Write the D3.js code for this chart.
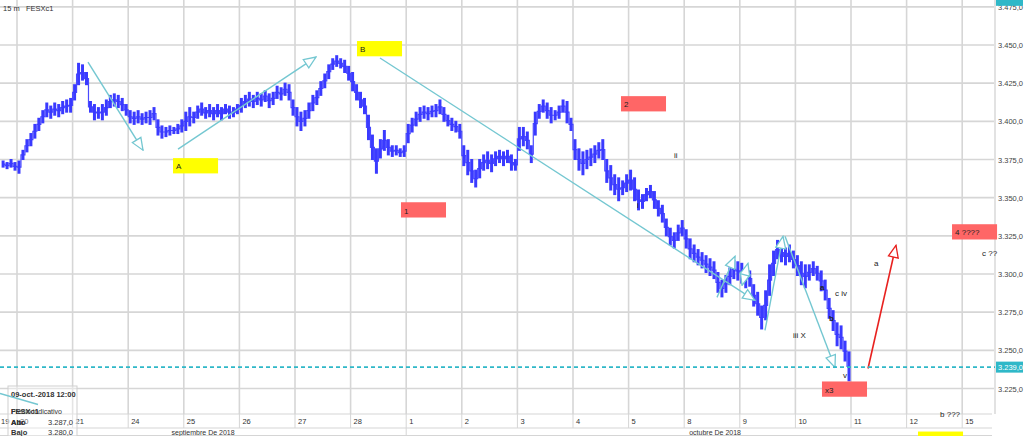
<!DOCTYPE html>
<html><head><meta charset="utf-8">
<script src="https://cdn.jsdelivr.net/npm/d3@7"></script>
<style>
body{margin:0;background:#fff;}
svg{display:block;font-family:"Liberation Sans",Arial,sans-serif;}
</style>
</head><body>
<svg id="c" width="1024" height="436"></svg>
<script>
// ---------- data ----------
const title = "15 m   FESXc1";
const dayLabels = ["19","20","21","24","25","26","27","28","1","2","3","4","5","8","9","10","11","12","15"];
const monthLabels = [{label:"septiembre De 2018", from:0, to:8}, {label:"octubre De 2018", from:8, to:20}];
const priceTicks = [3225,3250,3275,3300,3325,3350,3375,3400,3425,3450,3475];
const barsPerDay = 14;      // hourly bars
const firstBar = 10;        // first visible bar within day "19"
const lows = [
 3370,3369,3370,3368,
 3366,3375,3380,3384,3389,3394,3399,3403,3402,3404,3403,3405,3406,3406,
 3414,3424,3427,3424,3406,3401,3402,3401,3404,3409,3410,3409,3407,3404,
 3399,3398,3399,3398,3399,3398,3401,3391,3389,3390,3391,3392,3392,3393,
 3394,3397,3399,3402,3404,3402,3403,3401,3403,3401,3405,3402,3403,3405,
 3406,3409,3410,3409,3411,3410,3413,3409,3411,3415,3414,3417,3414,3404,
 3397,3394,3397,3402,3407,3411,3417,3422,3428,3434,3436,3435,3432,3427,
 3420,3414,3409,3405,3388,3375,3366,3376,3381,3378,3377,3378,3377,3377,
 3386,3393,3397,3400,3402,3401,3403,3403,3405,3400,3397,3394,3393,3389,
 3371,3365,3360,3357,3363,3368,3369,3367,3371,3373,3371,3373,3368,3368,
 3381,3384,3382,3373,3391,3402,3406,3402,3399,3401,3402,3406,3399,3394,
 3375,3368,3365,3369,3371,3373,3376,3375,3360,3355,3352,3348,3352,3354,
 3355,3348,3342,3343,3348,3350,3343,3338,3334,3325,3319,3317,3322,3325,
 3317,3310,3308,3306,3304,3301,3299,3297,3288,3285,3288,3293,3297,3296,
 3294,3291,3292,3279,3273,3264,3270,3286,3299,3310,3308,3306,3308,3304,
 3299,3293,3291,3296,3299,3296,3289,3283,3271,3263,3253,3251,3243,3230
];
const highs = [
 3374,3373,3375,3373,
 3374,3381,3388,3392,3398,3402,3407,3412,3410,3412,3411,3413,3414,3415,
 3424,3438,3437,3432,3413,3411,3409,3411,3414,3417,3418,3417,3415,3411,
 3407,3406,3407,3405,3406,3407,3409,3401,3397,3396,3397,3396,3398,3401,
 3406,3409,3406,3410,3412,3409,3411,3409,3411,3409,3411,3410,3409,3411,
 3415,3417,3419,3417,3419,3418,3420,3418,3419,3423,3422,3425,3424,3414,
 3409,3406,3407,3412,3417,3420,3426,3431,3437,3441,3443,3441,3440,3436,
 3432,3424,3419,3415,3404,3391,3382,3388,3394,3388,3384,3384,3382,3384,
 3398,3402,3406,3409,3410,3409,3410,3411,3414,3409,3404,3402,3400,3398,
 3384,3381,3375,3368,3375,3378,3380,3378,3380,3381,3380,3381,3378,3375,
 3396,3396,3393,3384,3406,3411,3414,3412,3409,3407,3410,3414,3413,3402,
 3388,3382,3380,3381,3382,3384,3386,3388,3375,3371,3365,3363,3361,3365,
 3368,3363,3355,3352,3356,3358,3354,3348,3345,3336,3330,3327,3332,3335,
 3329,3323,3319,3316,3314,3312,3310,3308,3301,3296,3299,3304,3309,3308,
 3307,3304,3302,3293,3288,3279,3289,3306,3315,3322,3320,3317,3319,3315,
 3312,3308,3306,3306,3308,3305,3302,3296,3284,3276,3268,3266,3256,3249
];
const lastPrice = 3239;
const topMarker = 3475;
// annotations (time in trading days, price)
const tealArrows = [
 {t1:2.277,p1:3438.8,t2:3.266,p2:3381.1},
 {t1:3.896,p1:3381.8,t2:6.378,p2:3442.1},
 {t1:7.529,p1:3441.5,t2:14.273,p2:3282.7},
 {t1:13.590,p1:3284.7,t2:13.914,p2:3311.6},
 {t1:14.040,p1:3292.6,t2:14.147,p2:3307.0,both:true},
 {t1:14.453,p1:3263.0,t2:14.777,p2:3324.7},
 {t1:14.813,p1:3324.7,t2:15.712,p2:3238.8}
];
const redArrows = [{t1:16.306,p1:3238.1,t2:16.809,p2:3318.8}];
const tealLines = [{t1:0.694,p1:3221.7,t2:1.378,p2:3214.5}];
const boxes = [
 {label:"A", t:3.806, p:3375.9, color:"#ffff00"},
 {label:"B", t:7.115, p:3452.6, color:"#ffff00"},
 {label:"1", t:7.906, p:3347.0, color:"#ff6666"},
 {label:"2", t:11.863, p:3416.5, color:"#ff6666"},
 {label:"x3", t:15.478, p:3229.6, color:"#ff6666"},
 {label:"4 ????", t:17.817, p:3332.6, color:"#ff6666"}
];
const boxW = 0.81, boxH = 10;
const notes = [
 {text:"ii", t:12.817, p:3375.9},
 {text:"i", t:12.151, p:3343.5},
 {text:"a", t:16.414, p:3305.0},
 {text:"a", t:15.442, p:3289.3, bold:true},
 {text:"b", t:15.604, p:3269.0, bold:true},
 {text:"c iv", t:15.712, p:3285.3},
 {text:"iii X", t:14.957, p:3257.8},
 {text:"v", t:15.856, p:3232.2},
 {text:"c ??", t:18.356, p:3311.6}
];
const legend = {date:"09-oct.-2018 12:00", sym:"FESXc1", kind:"Precio indicativo",
  rows:[{k:"Abr", k2:"Alto", v:"3.287,0"},{k:"Bajo", v:"3.280,0"}]};

// ---------- drawing ----------
const svg = d3.select("#c");
const plotRight = 995, axisTop = 414, axisMid = 428;
const x = d3.scaleLinear().domain([0,19]).range([-38.6, 1017.8]);
const y = d3.scaleLinear().domain([3225,3450]).range([388.5,45]);
const loc = d3.formatLocale({decimal:",", thousands:".", grouping:[3], currency:["",""]});
const fmt = loc.format(",.1f");
const teal = "#74c7d1", gridC = "#d6d6d6";

const defs = svg.append("defs");
defs.append("clipPath").attr("id","plot")
  .append("rect").attr("x",0).attr("y",0).attr("width",plotRight).attr("height",axisTop);

// horizontal grid
svg.append("g").selectAll("line").data(priceTicks).join("line")
  .attr("x1",0).attr("x2",plotRight).attr("y1",d=>y(d)).attr("y2",d=>y(d))
  .attr("stroke",gridC).attr("stroke-width",1.6);
// vertical grid
svg.append("g").selectAll("line").data(d3.range(1,dayLabels.length)).join("line")
  .attr("x1",d=>x(d)).attr("x2",d=>x(d)).attr("y1",0).attr("y2",axisMid)
  .attr("stroke",gridC).attr("stroke-width",1.6);
// right axis separator
svg.append("line").attr("x1",plotRight).attr("x2",plotRight).attr("y1",0).attr("y2",axisMid)
  .attr("stroke","#e2e2e2").attr("stroke-width",2);

// price bars
const bars = lows.map((lo,i)=>({t:(firstBar+i+0.5)/barsPerDay, lo, hi:highs[i]}));
const gBars = svg.append("g").attr("clip-path","url(#plot)");
gBars.append("path").datum(bars)
  .attr("d",d3.line().x(d=>x(d.t)).y(d=>y((d.lo+d.hi)/2)).curve(d3.curveStep))
  .attr("fill","none").attr("stroke","#4a4aff").attr("stroke-width",1.2);
gBars.selectAll("line").data(bars).join("line")
  .attr("x1",d=>x(d.t)).attr("x2",d=>x(d.t))
  .attr("y1",d=>y(d.lo)+0.5).attr("y2",d=>y(d.hi)-0.5)
  .attr("stroke","#3a3aff").attr("stroke-width",3);

// arrow markers
function marker(id,color){
  defs.append("marker").attr("id",id).attr("viewBox","0 0 14 12")
    .attr("refX",13).attr("refY",6).attr("markerWidth",14).attr("markerHeight",12)
    .attr("markerUnits","userSpaceOnUse").attr("orient","auto-start-reverse")
    .append("path").attr("d","M1,1 L13,6 L1,11 Z")
    .attr("fill","#fff").attr("stroke",color).attr("stroke-width",1.3);
}
marker("mt",teal); marker("mr","#e8211f");

const gAnn = svg.append("g");
gAnn.selectAll("line.t").data(tealArrows).join("line").attr("class","t")
  .attr("x1",d=>x(d.t1)).attr("y1",d=>y(d.p1)).attr("x2",d=>x(d.t2)).attr("y2",d=>y(d.p2))
  .attr("stroke",teal).attr("stroke-width",1.4)
  .attr("marker-end","url(#mt)").attr("marker-start",d=>d.both?"url(#mt)":null);
gAnn.selectAll("line.r").data(redArrows).join("line").attr("class","r")
  .attr("x1",d=>x(d.t1)).attr("y1",d=>y(d.p1)).attr("x2",d=>x(d.t2)).attr("y2",d=>y(d.p2))
  .attr("stroke","#e8211f").attr("stroke-width",1.6).attr("marker-end","url(#mr)");

// boxes
const gBox = gAnn.selectAll("g.box").data(boxes).join("g").attr("class","box");
gBox.append("rect").attr("x",d=>x(d.t)).attr("y",d=>y(d.p))
  .attr("width",d=>x(d.t+boxW)-x(d.t)).attr("height",d=>y(d.p-boxH)-y(d.p))
  .attr("fill",d=>d.color);
gBox.append("text").attr("x",d=>x(d.t)+3).attr("y",d=>y(d.p-boxH)-4)
  .attr("font-size",8).attr("fill","#222").text(d=>d.label);

// notes
gAnn.selectAll("text.n").data(notes).join("text").attr("class","n")
  .attr("x",d=>x(d.t)).attr("y",d=>y(d.p)).attr("font-size",8)
  .attr("font-weight",d=>d.bold?"bold":null).attr("fill","#222").text(d=>d.text);

// last price dashed line
svg.append("line").attr("x1",0).attr("x2",plotRight).attr("y1",y(lastPrice)).attr("y2",y(lastPrice))
  .attr("stroke","#2fb8c8").attr("stroke-width",1.6).attr("stroke-dasharray","4,3");

// right axis labels
svg.append("g").selectAll("text").data(priceTicks).join("text")
  .attr("x",998).attr("y",d=>y(d)+3).attr("font-size",7.5).attr("fill","#444").text(d=>fmt(d));
// price tags
svg.append("rect").attr("x",996).attr("y",y(lastPrice)-5.5).attr("width",27).attr("height",11).attr("fill","#2fb8c8");
svg.append("text").attr("x",998).attr("y",y(lastPrice)+3).attr("font-size",7.5).attr("fill","#fff").text(fmt(lastPrice));
svg.append("rect").attr("x",996).attr("y",y(topMarker)-10).attr("width",27).attr("height",9).attr("fill","#2fb8c8");

// title
svg.append("text").attr("x",3).attr("y",11).attr("font-size",7.5).attr("fill","#333").attr("xml:space","preserve").text(title);

// x axis rows
const gx = svg.append("g");
gx.append("rect").attr("x",0).attr("y",axisTop).attr("width",1024).attr("height",436-axisTop).attr("fill","#fff");
[axisTop,axisMid,435.5].forEach(v=>gx.append("line").attr("x1",0).attr("x2",992).attr("y1",v).attr("y2",v)
  .attr("stroke","#d5d5d5").attr("stroke-width",1));
gx.selectAll("line.d").data(d3.range(1,dayLabels.length)).join("line").attr("class","d")
  .attr("x1",d=>x(d)).attr("x2",d=>x(d)).attr("y1",axisTop).attr("y2",axisMid).attr("stroke","#d5d5d5");
gx.selectAll("text.d").data(dayLabels).join("text").attr("class","d")
  .attr("x",(d,i)=>Math.max(1,x(i)+3)).attr("y",axisTop+10).attr("font-size",7.5).attr("fill","#333").text(d=>d);
gx.append("line").attr("x1",x(8)).attr("x2",x(8)).attr("y1",axisMid).attr("y2",436).attr("stroke","#d5d5d5");
gx.selectAll("text.m").data(monthLabels).join("text").attr("class","m")
  .attr("x",d=>(Math.max(0,x(d.from))+Math.min(1024,x(d.to)))/2).attr("y",435)
  .attr("text-anchor","middle").attr("font-size",7).attr("fill","#333").text(d=>d.label);
// lower yellow box + note (over the axis rows)
gx.append("rect").attr("x",x(17.205)).attr("y",y(3196.8)).attr("width",x(17.205+boxW)-x(17.205)).attr("height",y(3186.8)-y(3196.8)).attr("fill","#ffff00");
gx.append("text").attr("x",x(17.601)).attr("y",y(3206.6)).attr("font-size",8).attr("fill","#222").text("b ???");

// legend
const gl = svg.append("g");
gl.append("rect").attr("x",8).attr("y",386).attr("width",69).attr("height",52)
  .attr("fill","#fff").attr("fill-opacity",0.35).attr("stroke","#cfcfcf");
gl.append("text").attr("x",11).attr("y",397).attr("font-size",7.5).attr("font-weight","bold").attr("fill","#333").text(legend.date);
gl.append("text").attr("x",11).attr("y",414).attr("font-size",7.5).attr("font-weight","bold").attr("fill","#333").text(legend.sym);
gl.append("text").attr("x",11).attr("y",414).attr("font-size",7).attr("fill","#333").text(legend.kind);
legend.rows.forEach((r,i)=>{
  const yy = 425 + i*10;
  gl.append("text").attr("x",11).attr("y",yy).attr("font-size",7.5).attr("font-weight","bold").attr("fill","#333").text(r.k);
  if(r.k2) gl.append("text").attr("x",11).attr("y",yy).attr("font-size",7.5).attr("font-weight","bold").attr("fill","#333").text(r.k2);
  gl.append("text").attr("x",48).attr("y",yy).attr("font-size",7.5).attr("fill","#333").text(r.v);
});
gl.selectAll("line").data(tealLines).join("line")
  .attr("x1",d=>x(d.t1)).attr("y1",d=>y(d.p1)).attr("x2",d=>x(d.t2)).attr("y2",d=>y(d.p2))
  .attr("stroke",teal).attr("stroke-width",1.4);
</script>
</body></html>
